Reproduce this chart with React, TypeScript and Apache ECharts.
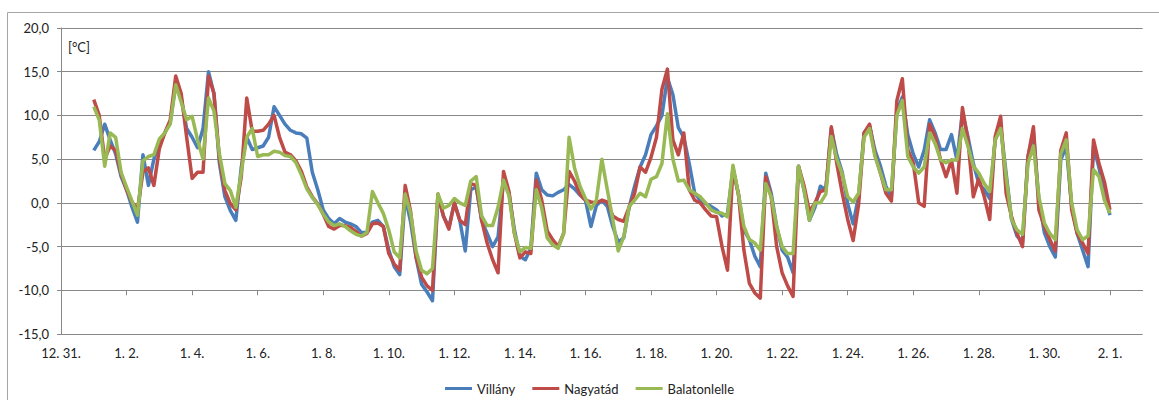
import React, { useEffect, useRef } from "react";
import * as echarts from "echarts";

// Series names (legend order)
const seriesNames = ["Villány", "Nagyatád", "Balatonlelle"];
const seriesColors = ["#4A7EBB", "#BE4B48", "#98B954"];

// X tick labels, every 2 days starting at 12.31.
const xTickLabels = [
  "12. 31.", "1. 2.", "1. 4.", "1. 6.", "1. 8.", "1. 10.", "1. 12.", "1. 14.", "1. 16.",
  "1. 18.", "1. 20.", "1. 22.", "1. 24.", "1. 26.", "1. 28.", "1. 30.", "2. 1.",
];

// Readings start 1.1. 00:00 (day 1 after 12.31.) every 4 hours, until 2.1. 00:00
const startDay = 1;
const stepDays = 1 / 6;

// Villány [°C]
const villany = [
  6.0, 7.0, 9.0, 7.2, 5.6, 3.0,
  1.5, -0.5, -2.2, 5.5, 2.0, 5.0,
  6.8, 8.0, 9.3, 13.5, 12.0, 8.5,
  7.5, 6.3, 8.5, 15.0, 12.5, 4.5,
  0.7, -0.9, -2.0, 4.1, 7.5, 6.1,
  6.3, 6.5, 7.5, 11.0, 10.0, 9.0,
  8.3, 8.0, 7.9, 7.4, 3.5, 1.5,
  -0.8, -1.8, -2.4, -1.8, -2.2, -2.4,
  -2.7, -3.4, -3.4, -2.2, -2.0, -2.7,
  -5.4, -7.3, -8.2, 0.7, -2.2, -6.3,
  -9.3, -10.2, -11.2, 0.8, -1.5, -2.8,
  0.0, -2.0, -5.5, 1.5, 1.8, -2.0,
  -3.5, -5.0, -3.9, 2.6, 1.1, -3.1,
  -6.1, -6.5, -5.2, 3.4, 1.5, 0.9,
  0.8, 1.2, 1.5, 2.1, 1.6, 0.9,
  0.3, -2.7, -0.3, 0.3, -0.4, -2.7,
  -4.5, -4.0, -0.5, 1.9, 4.1, 5.5,
  7.8, 8.8, 10.0, 14.3, 12.4, 8.6,
  7.5, 4.5, 1.1, 0.3, -0.1, -0.4,
  -0.8, -1.5, -1.2, 3.8, 1.0, -3.1,
  -4.2, -6.1, -7.3, 3.4, 1.1, -2.7,
  -5.4, -6.2, -8.0, 4.2, 1.5, -2.0,
  -0.5, 1.9, 1.5, 8.5, 5.5, 3.5,
  -0.1, -2.4, 0.8, 8.0, 8.8, 6.0,
  4.2, 1.9, 0.7, 10.5, 12.1, 7.8,
  5.6, 4.1, 6.0, 9.5, 8.0, 6.1,
  6.1, 7.8, 4.9, 10.3, 7.6, 4.5,
  2.2, 1.5, 0.5, 7.2, 8.7, 3.4,
  -1.9, -3.8, -4.5, 5.3, 8.0, 0.3,
  -3.4, -5.0, -6.2, 4.9, 6.5, -0.4,
  -3.5, -5.4, -7.3, 6.5, 4.0, 1.1,
  -1.4,
];

// Nagyatád [°C]
const nagyatad = [
  11.8, 10.0, 5.0, 6.5, 6.0, 3.3,
  1.5, 0.1, -0.8, 3.5, 4.0, 2.0,
  6.2, 8.0, 9.5, 14.5, 12.5, 7.5,
  2.8, 3.5, 3.5, 14.5, 12.5, 5.0,
  1.4, -0.1, -0.8, 3.0, 12.0, 8.2,
  8.2, 8.3, 9.0, 10.0, 7.5, 5.8,
  5.5, 4.8, 3.6, 1.8, 0.7, -0.1,
  -1.3, -2.7, -3.0, -2.6, -2.6, -2.8,
  -3.3, -3.8, -3.5, -2.4, -2.3, -2.7,
  -5.8, -7.0, -7.7, 2.0, -1.0, -6.2,
  -8.5, -9.5, -10.0, 1.0, -1.5, -3.0,
  0.0, -2.0, -2.5, 2.2, 2.0, -2.0,
  -4.6, -6.5, -8.0, 3.6, 1.3, -3.5,
  -6.3, -5.6, -5.8, 2.6, 0.3, -3.2,
  -4.2, -5.0, -3.5, 3.6, 2.5, 1.0,
  0.3, 0.1, 0.0, 0.3, 0.1, -1.5,
  -1.9, -2.1, -0.5, 1.1, 4.1, 3.5,
  5.2, 7.5, 13.0, 15.3, 7.2, 5.5,
  8.0, 1.5, 0.3, 0.0, -0.8, -1.5,
  -1.6, -5.0, -7.7, 4.0, 1.0, -5.4,
  -9.2, -10.3, -10.9, 3.0, 0.7, -5.0,
  -8.0, -9.5, -10.7, 4.2, 2.0, -1.0,
  0.0, 1.3, 1.5, 8.7, 4.5, 1.1,
  -1.9, -4.3, -0.2, 8.0, 9.0, 5.5,
  3.4, 1.1, 0.2, 11.7, 14.2, 6.1,
  4.6, 0.0, -0.4, 9.0, 7.6, 4.9,
  3.0, 4.9, 1.1, 10.9, 7.2, 0.7,
  2.8, 0.7, -1.9, 7.6, 9.9, 1.1,
  -1.6, -3.5, -5.0, 5.3, 8.7, -0.8,
  -2.7, -4.2, -5.5, 6.0, 8.0, -0.8,
  -3.5, -4.6, -5.8, 7.2, 4.5, 2.4,
  -0.8,
];

// Balatonlelle [°C]
const balatonlelle = [
  11.0, 9.5, 4.2, 8.0, 7.5, 3.5,
  1.8, 0.2, -1.4, 4.8, 5.3, 5.5,
  7.3, 8.0, 9.0, 13.5, 11.5, 9.5,
  9.9, 7.2, 5.0, 12.0, 10.5, 5.6,
  2.2, 1.4, -0.5, 3.5, 7.5, 8.5,
  5.3, 5.5, 5.5, 5.9, 5.8, 5.4,
  5.3, 4.6, 3.2, 1.6, 0.6, -0.2,
  -1.3, -2.2, -2.6, -2.4, -2.7, -3.2,
  -3.6, -3.8, -3.4, 1.3, 0.0, -1.2,
  -3.1, -5.6, -6.3, 1.0, -1.2, -5.5,
  -7.7, -8.1, -7.5, 1.0, -0.6, -0.3,
  0.5, 0.0, -0.3, 2.5, 3.0, -1.5,
  -2.6, -2.6, -0.5, 2.6, 0.8, -3.5,
  -5.6, -5.1, -5.2, 1.5, -0.6, -4.0,
  -4.8, -5.2, -3.5, 7.5, 4.0, 1.9,
  0.5, -0.7, 0.3, 5.0, 1.5, -1.9,
  -5.5, -3.9, -0.4, 0.3, 1.1, 0.7,
  2.7, 3.0, 4.5, 10.2, 5.0, 2.5,
  2.6, 1.5, 1.1, 0.7, 0.0, -0.8,
  -1.1, -1.2, -1.6, 4.3, 1.0, -2.7,
  -4.2, -4.6, -5.4, 2.2, 0.7, -2.7,
  -5.0, -5.8, -5.8, 4.2, 1.5, -2.0,
  0.0, 0.0, 1.0, 7.6, 5.0, 3.3,
  0.7, 0.1, 1.1, 7.5, 8.5, 5.3,
  3.4, 1.5, 1.5, 10.0, 11.7, 5.3,
  4.1, 3.4, 4.1, 8.0, 6.8, 4.9,
  4.6, 4.9, 4.9, 8.5, 6.5, 4.2,
  3.4, 2.2, 1.3, 7.2, 8.5, 3.0,
  -1.9, -3.1, -3.6, 4.5, 6.5, 0.7,
  -2.3, -3.5, -4.2, 5.6, 7.2, 0.0,
  -3.1, -4.2, -3.8, 3.8, 3.0, 0.3,
  -1.2,
];

const seriesValues = [villany, nagyatad, balatonlelle];

const FONT = "Lato, 'Liberation Sans', sans-serif";
const TEXT = "#222222";
const GRID = "#888888";

export default function App() {
  const ref = useRef<HTMLDivElement>(null);

  useEffect(() => {
    document.body.style.margin = "0";
    if (!ref.current) return;
    const chart = echarts.init(ref.current, undefined, { renderer: "svg" });
    const tickValues = xTickLabels.map((_, i) => i * 2);
    const xFormatter = (v: number) => {
      const i = Math.round(v / 2);
      return Math.abs(v - i * 2) < 1e-6 && i >= 0 && i < xTickLabels.length ? xTickLabels[i] : "";
    };

    chart.setOption({
      animation: false,
      backgroundColor: "#ffffff",
      textStyle: { fontFamily: FONT },
      grid: { left: 61, right: 16.3, top: 28, bottom: 66 },
      graphic: [
        {
          type: "rect",
          shape: { x: 7.5, y: 12.5, width: 1165, height: 400 },
          style: { fill: "none", stroke: "#a6a6a6", lineWidth: 1 },
          silent: true,
          z: -1,
        },
        {
          type: "text",
          left: 68,
          top: 40,
          style: { text: "[°C]", fontSize: 13, fontFamily: FONT, fill: TEXT },
        },
      ],
      legend: {
        data: seriesNames,
        left: 440,
        top: 377,
        icon: "rect",
        itemWidth: 27,
        itemHeight: 3,
        itemGap: 17,
        textStyle: { fontSize: 13, color: TEXT, fontFamily: FONT },
      },
      xAxis: [
        {
          type: "value",
          min: 0,
          max: 33,
          interval: 2,
          position: "bottom",
          axisLine: { show: false },
          axisTick: { show: false },
          splitLine: { show: false },
          axisLabel: {
            customValues: tickValues,
            formatter: xFormatter,
            margin: 12,
            fontSize: 13,
            color: TEXT,
            fontFamily: FONT,
          },
        },
        {
          type: "value",
          min: 0,
          max: 33,
          interval: 2,
          position: "bottom",
          offset: -43.7,
          axisLine: { show: true, lineStyle: { color: GRID, width: 1 } },
          axisTick: { show: true, length: 5, customValues: tickValues, lineStyle: { color: GRID } },
          axisLabel: { show: false },
          splitLine: { show: false },
        },
      ],
      yAxis: {
        type: "value",
        min: -15,
        max: 20,
        interval: 5,
        axisLine: { show: true, lineStyle: { color: GRID } },
        axisTick: { show: true, length: 4, lineStyle: { color: GRID } },
        splitLine: { show: true, lineStyle: { color: GRID, width: 1 } },
        axisLabel: {
          formatter: (v: number) => v.toFixed(1).replace(".", ","),
          margin: 12,
          fontSize: 13,
          color: TEXT,
          fontFamily: FONT,
        },
      },
      series: seriesNames.map((name, s) => ({
        name,
        type: "line",
        xAxisIndex: 0,
        showSymbol: false,
        symbol: "none",
        color: seriesColors[s],
        lineStyle: { width: 3.5, color: seriesColors[s], join: "round" },
        data: seriesValues[s].map((v, i) => [startDay + i * stepDays, v]),
        z: 2 + s,
      })),
    });

    return () => chart.dispose();
  }, []);

  return <div ref={ref} style={{ width: 1159, height: 400 }} />;
}
